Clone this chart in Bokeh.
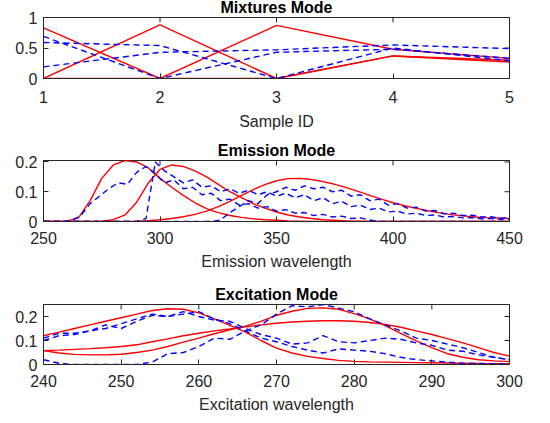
import math
from bokeh.plotting import figure
from bokeh.layouts import column
from bokeh.models import FixedTicker, Range1d
from bokeh.embed import file_html
from bokeh.resources import INLINE

# ---------------- Mixtures mode ----------------
sample_id = [1, 2, 3, 4, 5]
mix_true_1 = [0.83, 0.00, 0.87, 0.48, 0.33]
mix_true_2 = [0.00, 0.88, 0.00, 0.37, 0.30]
mix_true_3 = [0.00, 0.00, 0.00, 0.37, 0.27]
mix_est_1 = [0.69, 0.00, 0.43, 0.48, 0.33]
mix_est_2 = [0.59, 0.54, 0.00, 0.50, 0.29]
mix_est_3 = [0.19, 0.43, 0.47, 0.55, 0.49]

# ---------------- Emission mode ----------------
em_wl_true = [250, 255, 260, 265, 270, 275, 280, 285, 290, 295, 300, 305, 310, 315, 320,
              325, 330, 335, 340, 345, 350, 355, 360, 365, 370, 375, 380, 385, 390, 395,
              400, 405, 410, 415, 420, 425, 430, 435, 440, 445, 450]
em_true_1 = [0, 0, 0.001, 0.012, 0.07, 0.145, 0.19, 0.205, 0.2, 0.18, 0.145, 0.115, 0.088, 0.063, 0.043,
             0.03, 0.02, 0.014, 0.009, 0.006, 0.004, 0.002, 0.001, 0, 0, 0, 0, 0, 0, 0,
             0, 0, 0, 0, 0, 0, 0, 0, 0, 0, 0]
em_true_2 = [0, 0, 0, 0, 0, 0.001, 0.006, 0.022, 0.065, 0.13, 0.175, 0.19, 0.185, 0.17, 0.15,
             0.125, 0.1, 0.08, 0.06, 0.045, 0.032, 0.022, 0.015, 0.01, 0.006, 0.004, 0.002, 0.001, 0, 0,
             0, 0, 0, 0, 0, 0, 0, 0, 0, 0, 0]
em_true_3 = [0, 0, 0, 0, 0, 0, 0, 0, 0.001, 0.003, 0.006, 0.01, 0.016, 0.024, 0.035,
             0.05, 0.068, 0.088, 0.107, 0.124, 0.137, 0.144, 0.145, 0.141, 0.134, 0.125, 0.114, 0.101, 0.088, 0.075,
             0.063, 0.053, 0.044, 0.036, 0.029, 0.023, 0.019, 0.015, 0.013, 0.012, 0.01]

em_wl_est = [250, 254, 258, 262, 266, 270, 274, 278, 282, 286, 290, 294, 298, 302, 306, 310, 314,
             318, 322, 326, 330, 334, 338, 342, 346, 350, 354, 358, 362, 366, 370, 374, 378, 382,
             386, 390, 394, 398, 402, 406, 410, 414, 418, 422, 426, 430, 434, 438, 442, 446, 450]
em_est_1 = [0, 0, 0, 0.003, 0.02, 0.06, 0.085, 0.11, 0.13, 0.125, 0.165, 0.185, 0.16, 0.13, 0.14, 0.11, 0.115,
            0.09, 0.095, 0.07, 0.075, 0.055, 0.06, 0.045, 0.05, 0.035, 0.04, 0.028, 0.03, 0.02, 0.024, 0.015, 0.018, 0.01,
            0.012, 0.005, 0, 0, 0, 0, 0, 0, 0, 0, 0, 0, 0, 0, 0, 0, 0]
em_est_2 = [0, 0, 0, 0, 0, 0, 0, 0, 0, 0, 0, 0.01, 0.2, 0.17, 0.15, 0.13, 0.14,
            0.115, 0.12, 0.1, 0.11, 0.095, 0.105, 0.09, 0.1, 0.085, 0.095, 0.08, 0.09, 0.07, 0.08, 0.06, 0.068, 0.05,
            0.055, 0.04, 0.045, 0.032, 0.035, 0.025, 0.028, 0.02, 0.022, 0.015, 0.017, 0.012, 0.013, 0.009, 0.01, 0.007, 0.008]
em_est_3 = [0, 0, 0, 0, 0, 0, 0, 0, 0, 0, 0, 0, 0, 0, 0, 0, 0,
            0, 0, 0.005, 0.03, 0.05, 0.07, 0.06, 0.09, 0.1, 0.115, 0.105, 0.12, 0.11, 0.115, 0.1, 0.105, 0.085,
            0.09, 0.07, 0.075, 0.055, 0.06, 0.045, 0.048, 0.035, 0.037, 0.026, 0.028, 0.02, 0.021, 0.015, 0.016, 0.011, 0.012]

# ---------------- Excitation mode ----------------
ex_wl = [240, 242, 244, 246, 248, 250, 252, 254, 256, 258, 260, 262, 264, 266, 268, 270,
         272, 274, 276, 278, 280, 282, 284, 286, 288, 290, 292, 294, 296, 298, 300]
ex_true_1 = [0.12, 0.135, 0.15, 0.165, 0.18, 0.195, 0.21, 0.225, 0.232, 0.23, 0.215, 0.19, 0.163, 0.135, 0.1, 0.068,
             0.048, 0.034, 0.025, 0.017, 0.013, 0.011, 0.01, 0.009, 0.008, 0.007, 0.006, 0.005, 0.004, 0.003, 0.003]
ex_true_2 = [0.058, 0.048, 0.042, 0.04, 0.04, 0.043, 0.05, 0.06, 0.075, 0.093, 0.11, 0.128, 0.145, 0.16, 0.18, 0.205,
             0.222, 0.234, 0.236, 0.23, 0.212, 0.19, 0.162, 0.13, 0.098, 0.07, 0.045, 0.03, 0.02, 0.015, 0.012]
ex_true_3 = [0.058, 0.06, 0.063, 0.066, 0.07, 0.075, 0.082, 0.095, 0.107, 0.12, 0.13, 0.14, 0.148, 0.157, 0.165, 0.172,
             0.177, 0.18, 0.182, 0.182, 0.18, 0.175, 0.167, 0.155, 0.14, 0.125, 0.108, 0.09, 0.07, 0.05, 0.035]
ex_est_1 = [0.11, 0.13, 0.13, 0.14, 0.165, 0.15, 0.18, 0.205, 0.2, 0.21, 0.22, 0.19, 0.17, 0.14, 0.11, 0.095,
            0.075, 0.06, 0.048, 0.065, 0.06, 0.055, 0.045, 0.03, 0.02, 0.015, 0.01, 0.005, 0.004, 0.003, 0.003]
ex_est_2 = [0.02, 0.005, 0, 0, 0, 0, 0, 0.01, 0.045, 0.05, 0.075, 0.11, 0.105, 0.14, 0.165, 0.21,
            0.245, 0.24, 0.25, 0.235, 0.22, 0.19, 0.165, 0.14, 0.11, 0.1, 0.085, 0.07, 0.05, 0.03, 0.02]
ex_est_3 = [0.1, 0.12, 0.125, 0.14, 0.15, 0.17, 0.19, 0.21, 0.2, 0.22, 0.2, 0.185, 0.18, 0.15, 0.125, 0.11,
            0.085, 0.09, 0.12, 0.095, 0.09, 0.1, 0.11, 0.105, 0.09, 0.08, 0.06, 0.055, 0.04, 0.03, 0.02]

mix_xticks = [1, 2, 3, 4, 5]
mix_yticks = [0, 0.5, 1]
mix_ylabels = ["0", "0.5", "1"]
em_xticks = [250, 300, 350, 400, 450]
ex_xticks = [240, 250, 260, 270, 280, 290, 300]
small_yticks = [0, 0.1, 0.2]
small_ylabels = ["0", "0.1", "0.2"]

FONT = "Liberation Sans"
AX = "#262626"
RED = "#ff0000"
BLUE = "#0000ff"


def make_fig(title, xlabel, xr, yr, xticks, yticks, ylabels, top, bottom, fh, tick_sd=10, label_sd=6):
    p = figure(output_backend="svg", toolbar_location=None, frame_width=466, frame_height=fh,
               x_range=Range1d(*xr), y_range=Range1d(*yr),
               min_border_left=43, min_border_right=20, min_border_top=top, min_border_bottom=bottom,
               background_fill_color="white", border_fill_color="white")
    p.title.text = title
    p.title.text_font = FONT
    p.title.text_font_size = "16px"
    p.title.text_font_style = "bold"
    p.title.text_color = "black"
    p.title.align = "center"
    p.title.standoff = 3
    p.grid.visible = False
    p.outline_line_color = AX
    p.outline_line_width = 1
    p.outline_line_alpha = 1
    for ax in (p.xaxis[0], p.yaxis[0]):
        ax.axis_line_color = AX
        ax.major_tick_in = 5
        ax.major_tick_out = 0
        ax.minor_tick_line_color = None
        ax.major_tick_line_color = AX
        ax.major_label_text_font = FONT
        ax.major_label_text_font_size = "16px"
        ax.major_label_text_color = AX
        ax.axis_label_text_font = FONT
        ax.axis_label_text_font_size = "16px"
        ax.axis_label_text_font_style = "normal"
        ax.axis_label_text_color = AX
    p.xaxis.ticker = FixedTicker(ticks=xticks)
    p.yaxis.ticker = FixedTicker(ticks=yticks)
    p.yaxis.major_label_overrides = {t: l for t, l in zip(yticks, ylabels)}
    p.xaxis.major_label_standoff = tick_sd
    p.yaxis.major_label_standoff = 6
    p.xaxis.axis_label = xlabel
    p.xaxis.axis_label_standoff = label_sd
    # inward ticks on the top and right edges of the box (clipped to the frame)
    p.scatter(xticks, [yr[1]] * len(xticks), marker="dash", angle=math.pi / 2, size=10,
              line_color=AX, line_width=1)
    p.scatter([xr[1]] * len(yticks), yticks, marker="dash", size=10, line_color=AX, line_width=1)
    return p


f1 = make_fig("Mixtures Mode", "Sample ID", (1, 5), (0, 1), mix_xticks, mix_yticks, mix_ylabels, 22, 60, 61,
              tick_sd=12, label_sd=7)
for ys in (mix_true_1, mix_true_2, mix_true_3):
    f1.line(sample_id, ys, line_color=RED, line_width=1.4)
for ys in (mix_est_1, mix_est_2, mix_est_3):
    f1.line(sample_id, ys, line_color=BLUE, line_width=1.4, line_dash="6 4")

f2 = make_fig("Emission Mode", "Emission wavelength", (250, 450), (0, 0.205), em_xticks, small_yticks, small_ylabels, 22, 61, 61)
for ys in (em_true_1, em_true_2, em_true_3):
    f2.line(em_wl_true, ys, line_color=RED, line_width=1.4)
for ys in (em_est_1, em_est_2, em_est_3):
    f2.line(em_wl_est, ys, line_color=BLUE, line_width=1.4, line_dash="6 4")

f3 = make_fig("Excitation Mode", "Excitation wavelength", (240, 300), (0, 0.25), ex_xticks, small_yticks, small_ylabels, 22, 51, 60)
for ys in (ex_true_1, ex_true_2, ex_true_3):
    f3.line(ex_wl, ys, line_color=RED, line_width=1.4)
for ys in (ex_est_1, ex_est_2, ex_est_3):
    f3.line(ex_wl, ys, line_color=BLUE, line_width=1.4, line_dash="6 4")

layout = column(f1, f2, f3, spacing=0, styles={"margin-top": "-5px"})
open("out.html", "w").write(file_html(layout, INLINE))
